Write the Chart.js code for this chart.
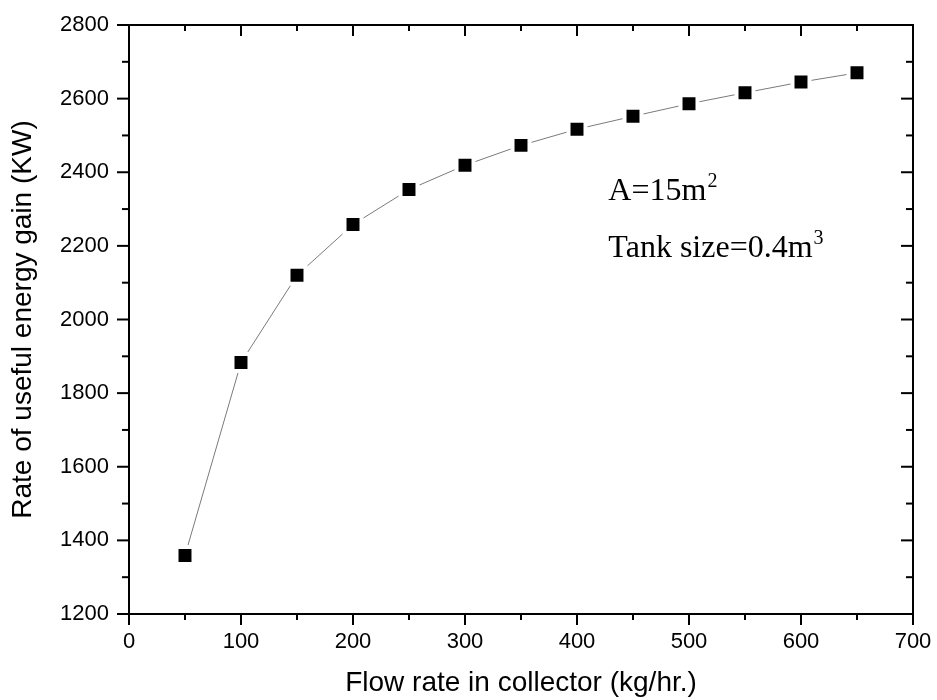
<!DOCTYPE html>
<html>
<head>
<meta charset="utf-8">
<script src="https://cdn.jsdelivr.net/npm/chart.js@4.4.0/dist/chart.umd.min.js"></script>
<style>
  html, body { margin: 0; padding: 0; background: #fff; }
  #wrap { width: 937px; height: 700px; }
</style>
</head>
<body>
<div id="wrap"><canvas id="myChart" width="937" height="700"></canvas></div>
<script>
// data
const flowRates = [50, 100, 150, 200, 250, 300, 350, 400, 450, 500, 550, 600, 650];
const energyGain = [1359, 1883, 2120, 2258, 2353, 2419, 2473, 2517, 2552, 2586, 2616, 2645, 2670];

// axis ticks
const xTicks = [0, 100, 200, 300, 400, 500, 600, 700];
const yTicks = [1200, 1400, 1600, 1800, 2000, 2200, 2400, 2600, 2800];

const xTitle = 'Flow rate in collector (kg/hr.)';
const yTitle = 'Rate of useful energy gain (KW)';

// annotation text: [main, superscript, x value, y value of baseline]
const notes = [
    ['A=15m', '2', 428, 2324],
    ['Tank size=0.4m', '3', 428, 2170]
];

const sans = "'Liberation Sans', Arial, sans-serif";
const serif = "'Liberation Serif', 'Times New Roman', serif";

// frame + Origin style ticks (outward on left/bottom, inward on top/right)
const frameTicks = {
    id: 'frameTicks',
    afterDraw(chart) {
        const ctx = chart.ctx;
        const a = chart.chartArea;
        const x = chart.scales.x, y = chart.scales.y;
        ctx.save();
        ctx.strokeStyle = '#000';
        ctx.lineWidth = 2;
        ctx.strokeRect(a.left, a.top, a.right - a.left, a.bottom - a.top);

        function seg(x1, y1, x2, y2) {
            ctx.beginPath(); ctx.moveTo(x1, y1); ctx.lineTo(x2, y2); ctx.stroke();
        }
        // x ticks
        for (let i = 0; i < xTicks.length; i++) {
            let px = x.getPixelForValue(xTicks[i]);
            seg(px, a.bottom, px, a.bottom + 11);
            seg(px, a.top, px, a.top + 11);
            if (i < xTicks.length - 1) {
                let m = x.getPixelForValue((xTicks[i] + xTicks[i + 1]) / 2);
                seg(m, a.bottom, m, a.bottom + 6);
                seg(m, a.top, m, a.top + 6);
            }
        }
        // y ticks
        for (let i = 0; i < yTicks.length; i++) {
            let py = y.getPixelForValue(yTicks[i]);
            seg(a.left - 12, py, a.left, py);
            seg(a.right - 12, py, a.right, py);
            if (i < yTicks.length - 1) {
                let m = y.getPixelForValue((yTicks[i] + yTicks[i + 1]) / 2);
                seg(a.left - 7, m, a.left, m);
                seg(a.right - 7, m, a.right, m);
            }
        }

        // annotations with superscripts
        ctx.fillStyle = '#000';
        ctx.textBaseline = 'alphabetic';
        ctx.textAlign = 'left';
        notes.forEach(n => {
            let px = x.getPixelForValue(n[2]);
            let py = y.getPixelForValue(n[3]);
            ctx.font = '32px ' + serif;
            ctx.fillText(n[0], px, py);
            let w = ctx.measureText(n[0]).width;
            ctx.font = '20px ' + serif;
            ctx.fillText(n[1], px + w + 1, py - 13);
        });
        ctx.restore();
    }
};

let element = document.querySelector('#myChart').getContext('2d');
let chart_output = new Chart(element, {
    type: 'scatter',
    data: {
        datasets: [{
            label: 'gain',
            data: flowRates.map((f, i) => ({ x: f, y: energyGain[i] })),
            showLine: true,
            borderColor: '#7a7a7a',
            borderWidth: 1,
            pointStyle: 'rect',
            pointRadius: 12,
            pointBackgroundColor: '#000',
            pointBorderColor: '#fff',
            pointBorderWidth: 4
        }]
    },
    options: {
        responsive: false,
        animation: false,
        layout: { padding: { top: 25, right: 24, left: 0, bottom: 0 } },
        plugins: { legend: { display: false }, tooltip: { enabled: false } },
        scales: {
            x: {
                type: 'linear',
                min: 0, max: 700,
                afterBuildTicks: s => { s.ticks = xTicks.map(v => ({ value: v })); },
                afterFit: s => { s.height = 86; },
                grid: { display: false, drawTicks: true, tickLength: 11 },
                border: { display: false },
                ticks: { color: '#000', font: { family: sans, size: 22 }, padding: 4, maxRotation: 0,
                         callback: v => String(v) },
                title: { display: true, text: xTitle, color: '#000', font: { family: sans, size: 28 }, padding: { top: 0, bottom: 0 } }
            },
            y: {
                type: 'linear',
                min: 1200, max: 2800,
                afterBuildTicks: s => { s.ticks = yTicks.map(v => ({ value: v })); },
                afterFit: s => { s.width = 129; },
                grid: { display: false, drawTicks: true, tickLength: 12 },
                border: { display: false },
                ticks: { color: '#000', font: { family: sans, size: 22 }, padding: 8,
                         callback: v => String(v) },
                title: { display: true, text: yTitle, color: '#000', font: { family: sans, size: 28 }, padding: { top: 6, bottom: 0 } }
            }
        }
    },
    plugins: [frameTicks]
});
</script>
</body>
</html>
